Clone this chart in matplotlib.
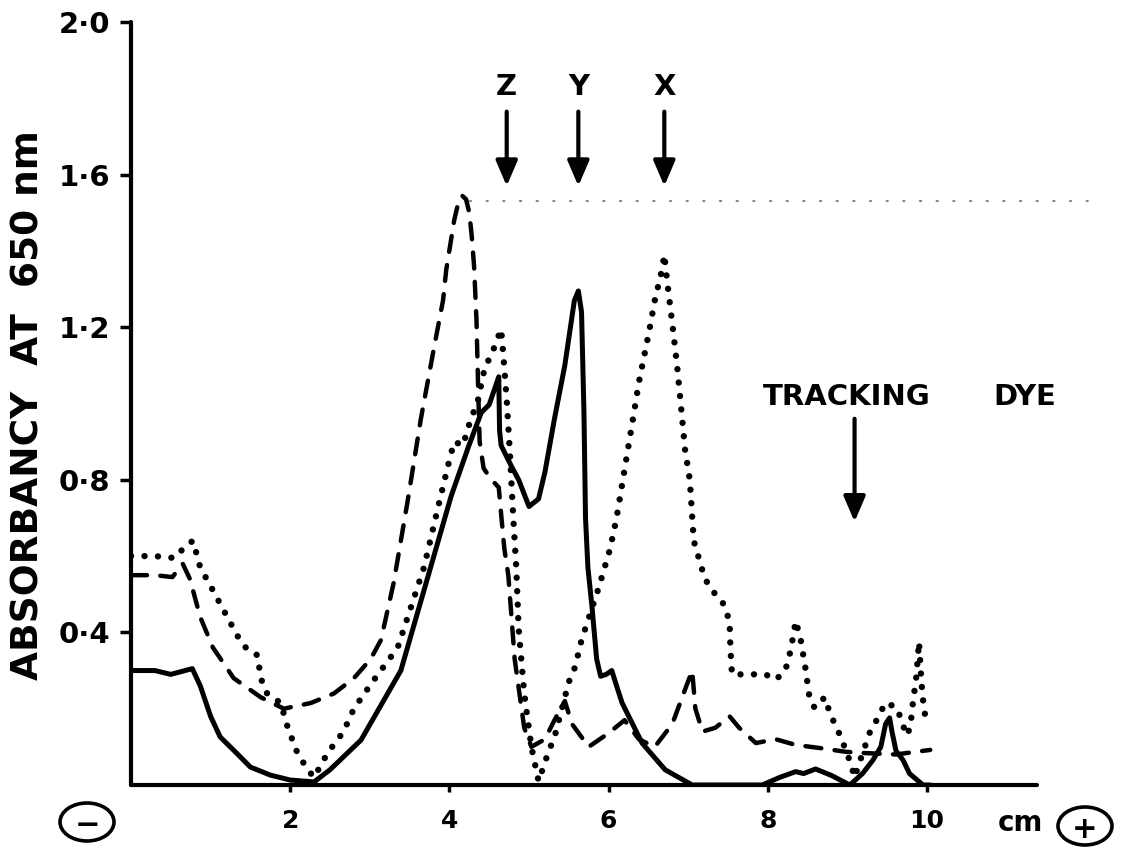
import matplotlib
matplotlib.use("Agg")
import matplotlib.pyplot as plt
from matplotlib.patches import Ellipse

# Migration distance (cm) and absorbance at 650 nm for the three scans
solid_x = [0.0, 0.3, 0.5, 0.77, 0.87, 1.0, 1.12, 1.31, 1.5, 1.75, 2.0, 2.3, 2.5, 2.89, 3.39,
           3.73, 4.02, 4.24, 4.4, 4.5, 4.62, 4.63, 4.65, 4.78, 4.87, 5.0, 5.12, 5.2, 5.32,
           5.45, 5.57, 5.62, 5.66, 5.69, 5.71, 5.74, 5.79, 5.85, 5.9, 5.97, 6.04, 6.1, 6.17,
           6.42, 6.71, 7.05, 7.5, 7.93, 8.15, 8.35, 8.45, 8.6, 8.8, 9.03, 9.19, 9.32, 9.42,
           9.48, 9.53, 9.56, 9.61, 9.7, 9.78, 9.95, 10.04]
solid_y = [0.30, 0.30, 0.29, 0.305, 0.26, 0.18, 0.126, 0.087, 0.047, 0.026, 0.013, 0.008, 0.04,
           0.118, 0.30, 0.546, 0.756, 0.887, 0.976, 0.997, 1.07, 0.93, 0.89, 0.835, 0.80, 0.73,
           0.75, 0.82, 0.96, 1.10, 1.27, 1.295, 1.24, 0.98, 0.70, 0.57, 0.47, 0.33, 0.285,
           0.29, 0.30, 0.26, 0.215, 0.11, 0.04, 0.0, 0.0, 0.0, 0.02, 0.035, 0.03, 0.042, 0.025,
           0.0, 0.03, 0.065, 0.10, 0.16, 0.176, 0.14, 0.09, 0.065, 0.03, 0.0, 0.0]

dashed_x = [0.0, 0.3, 0.52, 0.65, 0.74, 0.87, 1.03, 1.29, 1.63, 1.92, 2.26, 2.55, 2.8, 3.01,
            3.14, 3.3, 3.48, 3.64, 3.81, 3.92, 3.96, 4.06, 4.11, 4.16, 4.21, 4.25, 4.28, 4.31,
            4.34, 4.36, 4.38, 4.43, 4.53, 4.62, 4.65, 4.69, 4.74, 4.82, 4.94, 5.03, 5.2, 5.32,
            5.45, 5.54, 5.75, 6.0, 6.2, 6.38, 6.58, 6.8, 6.96, 7.05, 7.09, 7.18, 7.34, 7.52,
            7.64, 7.85, 8.1, 8.35, 8.65, 8.98, 9.19, 9.61, 10.04]
dashed_y = [0.55, 0.55, 0.545, 0.58, 0.54, 0.44, 0.36, 0.28, 0.23, 0.20, 0.215, 0.24, 0.28,
            0.33, 0.38, 0.53, 0.75, 0.958, 1.15, 1.27, 1.35, 1.48, 1.525, 1.545, 1.535, 1.50,
            1.44, 1.36, 1.22, 1.05, 0.90, 0.83, 0.80, 0.78, 0.71, 0.62, 0.55, 0.33, 0.15,
            0.10, 0.12, 0.17, 0.22, 0.16, 0.10, 0.136, 0.17, 0.12, 0.10, 0.16, 0.25, 0.30,
            0.20, 0.14, 0.15, 0.18, 0.15, 0.11, 0.12, 0.105, 0.097, 0.087, 0.084, 0.08, 0.092]

dotted_x = [0.0, 0.3, 0.55, 0.7, 0.78, 0.87, 1.03, 1.21, 1.34, 1.46, 1.59, 1.63, 1.71, 1.88,
            1.97, 2.09, 2.22, 2.3, 2.47, 2.67, 2.8, 3.05, 3.35, 3.68, 3.86, 3.98, 4.06, 4.17,
            4.24, 4.36, 4.44, 4.55, 4.65, 4.68, 4.72, 4.76, 4.8, 4.84, 4.87, 4.94, 5.03, 5.12,
            5.25, 5.32, 5.5, 5.58, 5.66, 5.88, 6.02, 6.1, 6.33, 6.38, 6.51, 6.58, 6.67, 6.7,
            6.73, 6.8, 6.86, 6.92, 6.96, 7.02, 7.07, 7.21, 7.34, 7.43, 7.52, 7.53, 7.55, 7.77,
            7.97, 8.1, 8.22, 8.29, 8.35, 8.41, 8.47, 8.52, 8.58, 8.63, 8.71, 8.78, 8.84, 8.92,
            8.98, 9.04, 9.09, 9.17, 9.28, 9.42, 9.47, 9.61, 9.67, 9.74, 9.79, 9.83, 9.86, 9.9,
            9.93, 9.96, 10.0]
dotted_y = [0.60, 0.60, 0.595, 0.63, 0.64, 0.57, 0.51, 0.44, 0.39, 0.355, 0.34, 0.28, 0.24,
            0.215, 0.15, 0.084, 0.04, 0.02, 0.084, 0.14, 0.20, 0.275, 0.36, 0.57, 0.73, 0.835,
            0.90, 0.89, 0.94, 1.01, 1.09, 1.14, 1.195, 1.12, 1.01, 0.87, 0.71, 0.57, 0.41,
            0.24, 0.10, 0.01, 0.09, 0.125, 0.27, 0.31, 0.38, 0.52, 0.62, 0.70, 0.99, 1.055,
            1.19, 1.27, 1.35, 1.39, 1.33, 1.21, 1.10, 0.97, 0.88, 0.80, 0.64, 0.54, 0.50,
            0.48, 0.43, 0.36, 0.29, 0.29, 0.29, 0.276, 0.30, 0.355, 0.43, 0.385, 0.31, 0.235,
            0.205, 0.205, 0.23, 0.19, 0.16, 0.125, 0.09, 0.058, 0.02, 0.07, 0.137, 0.19,
            0.215, 0.205, 0.176, 0.13, 0.15, 0.23, 0.27, 0.375, 0.27, 0.20, 0.16]

x_ticks = [2, 4, 6, 8, 10]
x_tick_labels = ["2", "4", "6", "8", "10"]
y_ticks = [0.4, 0.8, 1.2, 1.6, 2.0]
y_tick_labels = ["0·4", "0·8", "1·2", "1·6", "2·0"]

band_names = ["Z", "Y", "X"]
band_pos = [4.72, 5.62, 6.70]
dye_pos = 9.09

W, H = 1126, 847
fig = plt.figure(figsize=(W / 100, H / 100), dpi=100)
fig.patch.set_facecolor("white")

x_per_px = 1 / 79.6
ax = fig.add_axes([131 / W, 62 / H, (1037 - 131) / W, (785 - 22) / H])
ax.set_xlim(0, (1037 - 131) * x_per_px)
ax.set_ylim(0, 2.0)

bold = dict(family="DejaVu Sans", fontweight="bold", color="black")

ax.plot(solid_x, solid_y, color="black", lw=3.6, solid_joinstyle="round",
        solid_capstyle="round")
ax.plot(dashed_x, dashed_y, color="black", lw=3.2, linestyle=(0, (3.6, 3.0)),
        dash_capstyle="round", dash_joinstyle="round")
ax.plot(dotted_x, dotted_y, color="black", lw=4.6, linestyle=(0, (0.01, 2.1)),
        dash_capstyle="round")

# faint guide line under the band arrows
ax.plot([4.26, 12.2], [1.53, 1.53], color="#555555", lw=1.6,
        linestyle=(0, (0.5, 7)), dash_capstyle="round", clip_on=False, alpha=0.7)

for sp in ["top", "right"]:
    ax.spines[sp].set_visible(False)
for sp in ["left", "bottom"]:
    ax.spines[sp].set_linewidth(3.0)
    ax.spines[sp].set_capstyle("round")

ax.set_xticks(x_ticks)
ax.set_xticklabels(x_tick_labels, **bold, fontsize=18)
ax.set_yticks(y_ticks)
ax.set_yticklabels(y_tick_labels, **bold, fontsize=21)
ax.tick_params(axis="x", direction="out", length=5, width=2.5, pad=12)
ax.tick_params(axis="y", direction="out", length=8, width=2.5, pad=7)

fig.text(29 / W, 1 - 405 / H, "ABSORBANCY  AT  650 nm", rotation=90,
         ha="center", va="center", fontsize=27, **bold)

# band markers
for name, xp in zip(band_names, band_pos):
    ax.annotate("", xy=(xp, 1.57), xytext=(xp, 1.765),
                arrowprops=dict(arrowstyle="-|>,head_length=0.7,head_width=0.3",
                                lw=3, color="black", mutation_scale=22,
                                shrinkA=0, shrinkB=0))
    ax.text(xp, 1.83, name, ha="center", va="center", fontsize=21, **bold)

ax.text((763 - 131) * x_per_px, 1.017, "TRACKING", ha="left", va="center",
        fontsize=21, **bold)
ax.text((993 - 131) * x_per_px, 1.017, "DYE", ha="left", va="center",
        fontsize=21, **bold)
ax.annotate("", xy=(dye_pos, 0.69), xytext=(dye_pos, 0.96),
            arrowprops=dict(arrowstyle="-|>,head_length=0.7,head_width=0.3",
                            lw=3, color="black", mutation_scale=22,
                            shrinkA=0, shrinkB=0))

# unit and electrode signs along the bottom
fig.text(1020 / W, 1 - 823 / H, "cm", ha="center", va="center", fontsize=20, **bold)
for cx, cy, sign in [(87, 822, "−"), (1085, 826, "+")]:
    fig.add_artist(Ellipse((cx / W, 1 - cy / H), 54 / W, 38 / H,
                           transform=fig.transFigure, fill=False, lw=2.6,
                           edgecolor="black"))
    fig.text(cx / W, 1 - cy / H, sign, ha="center", va="center_baseline",
             fontsize=22, **bold)

fig.savefig("out.png", dpi=100, facecolor="white")
